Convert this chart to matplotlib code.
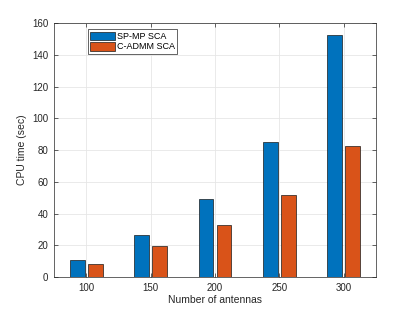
import matplotlib
matplotlib.use("Agg")
import matplotlib.pyplot as plt
import numpy as np

plt.rcParams['font.family'] = ['Liberation Sans', 'DejaVu Sans']

antennas = ['100', '150', '200', '250', '300']
spmp_sca = [10.9, 26.3, 49.1, 85.1, 152.4]
cadmm_sca = [8.2, 19.6, 33.1, 51.8, 82.3]

fig = plt.figure(figsize=(4.15, 3.11), dpi=100)
ax = fig.add_axes([0.130, 0.109, 0.776, 0.817])

x = np.arange(len(antennas))
w = 0.23
ax.bar(x - 0.14, spmp_sca, w, color='#0072BD', edgecolor='#1a1a1a', linewidth=0.5,
       label='SP-MP SCA', zorder=3)
ax.bar(x + 0.14, cadmm_sca, w, color='#D95319', edgecolor='#1a1a1a', linewidth=0.5,
       label='C-ADMM SCA', zorder=3)

ax.set_xlim(-0.5, 4.5)
ax.set_ylim(0, 160)
ax.set_xticks(x)
ax.set_xticklabels(antennas)
ax.set_yticks(np.arange(0, 161, 20))
ax.grid(True, color='#e6e6e6', linewidth=0.6, zorder=0)
ax.set_axisbelow(True)
ax.tick_params(direction='in', top=True, right=True, length=3, width=0.5,
               labelsize=7, colors='#262626', pad=4)
for s in ax.spines.values():
    s.set_color('#262626')
    s.set_linewidth(0.5)

ax.set_xlabel('Number of antennas', fontsize=7.5, color='#262626', labelpad=2)
ax.set_ylabel('CPU time (sec)', fontsize=7.5, color='#262626', labelpad=4)

leg = ax.legend(loc='upper left', bbox_to_anchor=(0.106, 0.975), fontsize=6.5,
                frameon=True, fancybox=False, edgecolor='#262626', framealpha=1,
                handlelength=2.7, handleheight=1.1, handletextpad=0.2,
                borderpad=0.25, labelspacing=0.1, borderaxespad=0)
leg.get_frame().set_linewidth(0.5)

fig.savefig('out.png', dpi=100)
